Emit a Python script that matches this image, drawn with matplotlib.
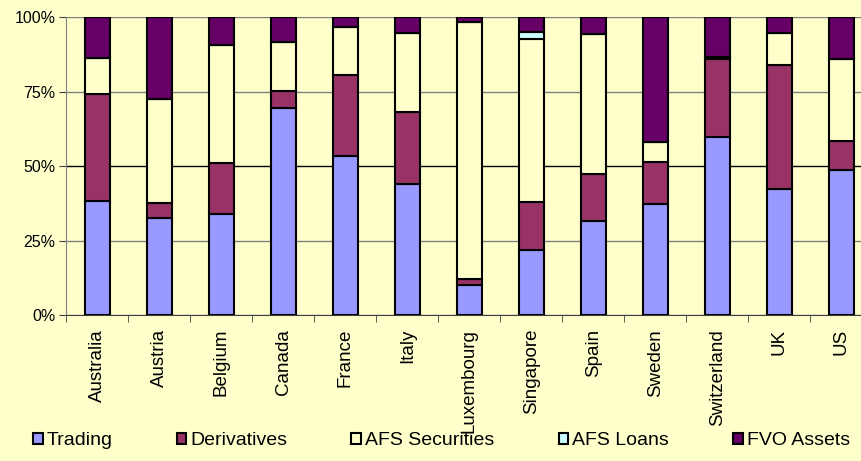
import numpy as np
import matplotlib
matplotlib.use("Agg")
import matplotlib.pyplot as plt
from matplotlib.ticker import PercentFormatter

countries = ['Australia', 'Austria', 'Belgium', 'Canada', 'France', 'Italy',
             'Luxembourg', 'Singapore', 'Spain', 'Sweden', 'Switzerland', 'UK', 'US']
trading = [38.4, 32.7, 33.9, 69.6, 53.5, 43.9, 10.0, 21.9, 31.7, 37.1, 59.7, 42.4, 48.7]
derivatives = [35.8, 4.8, 17.0, 5.6, 27.0, 24.1, 2.2, 15.9, 15.5, 14.3, 26.1, 41.5, 9.7]
afs_securities = [11.9, 35.0, 39.7, 16.3, 16.2, 26.5, 86.0, 54.7, 47.2, 6.8, 0.9, 10.6, 27.4]
afs_loans = [0, 0, 0, 0, 0, 0, 0, 2.5, 0, 0, 0, 0, 0]
fvo_assets = [13.9, 27.5, 9.4, 8.5, 3.3, 5.5, 1.8, 5.0, 5.6, 41.8, 13.3, 5.5, 14.2]

series = [('Trading', trading, '#9999FF'),
          ('Derivatives', derivatives, '#993366'),
          ('AFS Securities', afs_securities, '#FFFFCC'),
          ('AFS Loans', afs_loans, '#CCFFFF'),
          ('FVO Assets', fvo_assets, '#660066')]

plt.rcParams['font.family'] = ['Liberation Sans', 'DejaVu Sans']
bg = '#FFFFCC'

fig = plt.figure(figsize=(8.62, 4.61), dpi=100, facecolor=bg)
ax = fig.add_axes([0.0771, 0.3167, 0.935, 0.6464], facecolor=bg)

x = np.arange(len(countries))
bottom = np.zeros(len(countries))
handles = []
for name, vals, color in series:
    vals = np.array(vals, dtype=float)
    b = ax.bar(x, vals, 0.4, bottom=bottom, color=color, edgecolor='black',
               linewidth=1.5, label=name, zorder=3)
    handles.append(b)
    bottom += vals

ax.set_xlim(-0.5, len(countries) - 0.5)
ax.set_ylim(0, 100)
ax.set_yticks([0, 25, 50, 75, 100])
ax.yaxis.set_major_formatter(PercentFormatter(decimals=0))
ax.grid(axis='y', color='#808080', linewidth=1, zorder=0)
ax.get_ygridlines()[2].set_color('black')

ax.set_xticks(x)
ax.set_xticklabels(countries, rotation=90, fontsize=13.5)
ax.set_xticks(np.arange(-0.5, len(countries)), minor=True)
ax.tick_params(axis='x', which='major', length=0, pad=10)
ax.tick_params(axis='x', which='minor', length=5, color='#404040')
ax.tick_params(axis='y', length=5, pad=3, labelsize=11.5, color='#404040')

for s in ['top', 'right']:
    ax.spines[s].set_visible(False)
ax.spines['left'].set_color('#808080')
ax.spines['bottom'].set_color('#404040')

fig.legend(handles=handles, loc='lower center', bbox_to_anchor=(0.512, -0.012),
           ncol=5, frameon=False, fontsize=14, handlelength=0.5, handleheight=0.5,
           handletextpad=0.2, columnspacing=3.3)

fig.savefig('out.png', dpi=100, facecolor=bg)
